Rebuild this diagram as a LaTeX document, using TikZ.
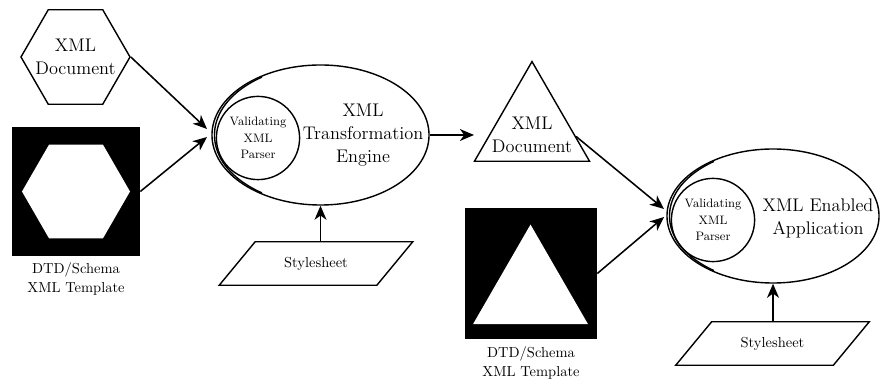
\documentclass[tikz,border=0pt]{standalone}
\usetikzlibrary{arrows.meta,shapes.geometric,calc}

\tikzset{
  outline/.style={draw=black, line width=1pt},
  arr/.style={-{Stealth[length=10pt,width=8.5pt,inset=3pt]}, line width=1.1pt},
  hexa/.style={regular polygon, regular polygon sides=6, minimum size=2.725cm, inner sep=0pt},
  trio/.style={regular polygon, regular polygon sides=3, minimum size=3.32cm, inner sep=0pt},
  engine/.style={ellipse, outline, inner sep=0pt},
  parser/.style={circle, outline, minimum size=2.08cm, inner sep=0pt, align=center, font=\fontsize{8.7}{11.8}\selectfont},
  blackbox/.style={fill=black, inner sep=0pt},
  bigtxt/.style={align=center, font=\fontsize{13}{16.4}\selectfont},
  labtxt/.style={align=center, font=\fontsize{10.3}{13.5}\selectfont},
  stybox/.style={minimum width=3.925cm, minimum height=1.075cm, inner sep=0pt, font=\fontsize{10.3}{12}\selectfont}
}

\begin{document}
\begin{tikzpicture}[x=0.025cm, y=-0.025cm]
\useasboundingbox (0,0) rectangle (880,385);

\node[hexa, outline] (xmldoc) at (75.5,57) {};
\node[bigtxt] (xmldoctxt) at (xmldoc.center) {XML\\Document};
\node[blackbox, minimum width=3.2cm, minimum height=3.225cm] (dtd1) at (76,191.5) {};
\node[hexa, fill=white, minimum size=2.7cm] (dtd1hex) at (dtd1.center) {};
\node[labtxt] (dtd1lab) at (76,278.5) {DTD/Schema\\XML Template};

\node[engine, minimum width=5.425cm, minimum height=3.5cm] (eng) at (320.5,135) {};
\begin{scope}
\clip (200,40) rectangle (262,230);
\node[engine, minimum width=5.425cm, minimum height=3.5cm] (engrim) at (323,135) {};
\end{scope}
\node[parser] (val1) at (258,138) {Validating\\XML\\Parser};
\node[bigtxt] (engtxt) at (363,135) {XML\\Transformation\\Engine};

\node[stybox] (sty1) at (316,263.5) {Stylesheet};
\draw[outline] ([xshift=-0.45cm]sty1.south west) -- ([xshift=-0.45cm]sty1.south east) -- ([xshift=0.45cm]sty1.north east) -- ([xshift=0.45cm]sty1.north west) -- cycle;

\coordinate (engin1) at (207,129);
\coordinate (engin2) at (207,137);
\draw[arr] (xmldoc.east) -- (engin1);
\draw[arr] (dtd1.east) -- (engin2);
\draw[arr] (sty1.north -| eng.south) -- (eng.south);

\node[trio, outline] (doc2) at (532,128) {};
\node[bigtxt] (doc2txt) at (532,135) {XML\\Document};
\coordinate (docin) at (474,135);
\draw[arr] (eng.east) -- (docin);

\node[blackbox, minimum width=3.3cm, minimum height=3.275cm] (dtd2) at (531,273.5) {};
\node[trio, fill=white] (dtd2tri) at (530.5,291) {};
\node[labtxt] (dtd2lab) at (531,362.5) {DTD/Schema\\XML Template};

\node[engine, minimum width=5.3cm, minimum height=3.35cm] (app) at (773,216) {};
\begin{scope}
\clip (655,140) rectangle (714,300);
\node[engine, minimum width=5.3cm, minimum height=3.35cm] (apprim) at (775.5,216) {};
\end{scope}
\node[parser] (val2) at (713,220) {Validating\\XML\\Parser};
\node[bigtxt] (apptxt) at (818,218.5) {XML Enabled\\Application};

\node[stybox] (sty2) at (772.5,343.5) {Stylesheet};
\draw[outline] ([xshift=-0.45cm]sty2.south west) -- ([xshift=-0.45cm]sty2.south east) -- ([xshift=0.45cm]sty2.north east) -- ([xshift=0.45cm]sty2.north west) -- cycle;

\coordinate (appin1) at (664,209);
\coordinate (appin2) at (664,217);
\draw[arr] ($(doc2.corner 1)!0.75!(doc2.corner 3)$) -- (appin1);
\draw[arr] (dtd2.east) -- (appin2);
\draw[arr] (sty2.north -| app.south) -- (app.south);
\end{tikzpicture}
\end{document}
